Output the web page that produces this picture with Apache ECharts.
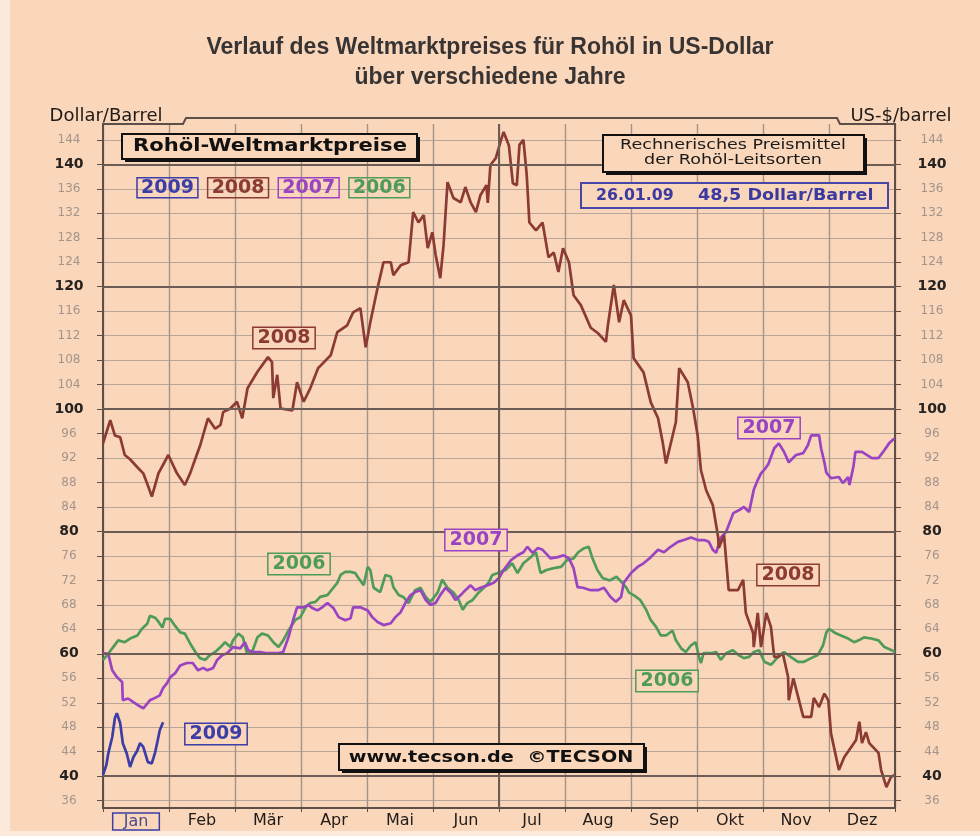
<!DOCTYPE html>
<html>
<head>
<meta charset="utf-8">
<script src="https://cdn.jsdelivr.net/npm/echarts@6/dist/echarts.min.js"></script>
<style>
  html, body { margin: 0; padding: 0; background: #fbe9dc; }
  #chart { width: 980px; height: 836px; }
</style>
</head>
<body>
<div id="chart"></div>
<script>
// month labels and y tick labels
const months = ['Jan', 'Feb', 'Mär', 'Apr', 'Mai', 'Jun', 'Jul', 'Aug', 'Sep', 'Okt', 'Nov', 'Dez']
const yTicks = [36, 40, 44, 48, 52, 56, 60, 64, 68, 72, 76, 80, 84, 88, 92, 96, 100,
  104, 108, 112, 116, 120, 124, 128, 132, 136, 140, 144]
const boldLines = [40, 60, 80, 100, 120, 140]

// prices as [month position (0..12), dollar/barrel]
const oil2009 = [[0, 40.2], [0.05, 41.8], [0.08, 43.7], [0.14, 46.4], [0.18, 49.5], [0.21, 50.3],
  [0.26, 48.7], [0.3, 45.4], [0.36, 43.7], [0.41, 41.5], [0.46, 43.1], [0.52, 44.2], [0.56, 45.4],
  [0.61, 44.8], [0.68, 42.3], [0.74, 42.1], [0.79, 43.9], [0.82, 45.4], [0.86, 47.5], [0.91, 48.8]]

const oil2008 = [[0, 94.4], [0.11, 98.2], [0.18, 95.7], [0.26, 95.4], [0.33, 92.5], [0.41, 91.8],
  [0.52, 90.5], [0.61, 89.5], [0.68, 87.5], [0.74, 85.7], [0.84, 89.5], [0.99, 92.5], [1.12, 89.5],
  [1.24, 87.6], [1.32, 89.5], [1.38, 91.3], [1.47, 94], [1.59, 98.5], [1.7, 96.8], [1.78, 97.4],
  [1.82, 99.5], [1.93, 100.1], [2.03, 101.2], [2.11, 98.5], [2.19, 103.4], [2.34, 106.1], [2.5, 108.5],
  [2.56, 107.7], [2.58, 101.8], [2.64, 105.6], [2.69, 100.1], [2.87, 99.8], [2.94, 104.4], [3.04, 101.2],
  [3.14, 103.4], [3.26, 106.7], [3.45, 108.8], [3.55, 112.6], [3.7, 113.7], [3.79, 115.8], [3.9, 116.5],
  [3.98, 110.1], [4.05, 114.2], [4.16, 119.8], [4.25, 124], [4.36, 124], [4.4, 121.9], [4.51, 123.5],
  [4.63, 124], [4.7, 132.2], [4.78, 130.5], [4.86, 131.7], [4.92, 126.3], [4.99, 128.9], [5.04, 125.2],
  [5.11, 121.4], [5.16, 126.8], [5.22, 137.1], [5.31, 134.5], [5.42, 133.8], [5.49, 136.3], [5.57, 133.8],
  [5.65, 132.2], [5.72, 135], [5.81, 136.6], [5.83, 133.7], [5.87, 139.9], [5.95, 141], [6.02, 143.6],
  [6.07, 145.3], [6.15, 143.1], [6.21, 136.9], [6.27, 136.6], [6.31, 143.2], [6.37, 144], [6.42, 138.3],
  [6.46, 130.5], [6.56, 129.2], [6.66, 130.5], [6.75, 124.8], [6.83, 125.6], [6.9, 122.4], [6.97, 126.3],
  [7.06, 124], [7.13, 118.6], [7.24, 117], [7.39, 113.3], [7.5, 112.4], [7.62, 111], [7.65, 113.7],
  [7.74, 120.3], [7.82, 114.2], [7.89, 117.8], [8.0, 115.3], [8.04, 108.3], [8.19, 106], [8.3, 101.1],
  [8.41, 98.5], [8.48, 94.6], [8.53, 91.1], [8.68, 97.9], [8.73, 106.7], [8.86, 104.4], [8.94, 100.2],
  [9.01, 95.7], [9.06, 90], [9.14, 86.7], [9.24, 84.3], [9.32, 79.1], [9.33, 77.3], [9.41, 79.4],
  [9.48, 70.4], [9.62, 70.4], [9.7, 72.1], [9.74, 66.7], [9.85, 63.4], [9.86, 61.1], [9.92, 66.7],
  [9.97, 61.1], [10.05, 66.7], [10.12, 64.4], [10.17, 59.5], [10.23, 59.5], [10.3, 60.1], [10.38, 56.2],
  [10.39, 52.4], [10.46, 56], [10.61, 49.7], [10.73, 49.7], [10.77, 52.8], [10.85, 51.3], [10.93, 53.5],
  [10.99, 52.4], [11.03, 47], [11.15, 41], [11.23, 43.1], [11.34, 44.8], [11.41, 45.9], [11.46, 48.9],
  [11.5, 45.4], [11.56, 47.2], [11.61, 45.4], [11.75, 43.8], [11.79, 41], [11.87, 38.2], [11.94, 39.9],
  [12, 40.2]]

const oil2007 = [[0, 60.1], [0.08, 60], [0.14, 57.3], [0.21, 56.2], [0.29, 55.4], [0.3, 52.4], [0.38, 52.7],
  [0.46, 52.1], [0.53, 51.6], [0.61, 51.1], [0.71, 52.4], [0.79, 52.8], [0.86, 53.2], [0.91, 54.4],
  [0.97, 55.2], [1.02, 56.2], [1.09, 56.8], [1.17, 58.1], [1.27, 58.5], [1.36, 58.5], [1.44, 57.3],
  [1.52, 57.7], [1.58, 57.3], [1.67, 57.7], [1.73, 59], [1.81, 59.8], [1.88, 60.1], [1.97, 61.1],
  [2.08, 60.9], [2.15, 61.9], [2.2, 60.6], [2.28, 60.3], [2.38, 60.3], [2.49, 60.1], [2.64, 60.1],
  [2.73, 60.3], [2.81, 62.7], [2.88, 65.5], [2.94, 67.6], [3.04, 67.6], [3.11, 68], [3.17, 67.5],
  [3.25, 67.1], [3.32, 67.6], [3.4, 68.3], [3.49, 67.5], [3.57, 66], [3.67, 65.5], [3.75, 65.8],
  [3.79, 67.6], [3.9, 67.6], [4.01, 67.1], [4.08, 66], [4.16, 65.2], [4.25, 64.7], [4.36, 65], [4.43, 66],
  [4.51, 66.8], [4.58, 68.3], [4.66, 69.6], [4.73, 70.1], [4.81, 70.4], [4.89, 68.8], [4.96, 68],
  [5.04, 68.3], [5.11, 69.6], [5.19, 70.8], [5.27, 70], [5.34, 68.8], [5.42, 69.6], [5.49, 70.4],
  [5.57, 71.2], [5.64, 70.4], [5.72, 70.8], [5.83, 71.2], [5.92, 71.6], [6.0, 72.4], [6.07, 73.7],
  [6.18, 75.3], [6.28, 76.1], [6.37, 76.6], [6.43, 77.5], [6.51, 76.5], [6.59, 77.3], [6.66, 77],
  [6.74, 76.1], [6.78, 75.6], [6.89, 75.8], [6.98, 76.1], [7.06, 75.6], [7.13, 74], [7.19, 70.9],
  [7.27, 70.8], [7.39, 70.4], [7.5, 70.4], [7.59, 70.8], [7.69, 69.3], [7.77, 68.5], [7.85, 69.3],
  [7.89, 71.6], [8.0, 73.2], [8.1, 74.2], [8.19, 74.8], [8.3, 75.8], [8.41, 77], [8.5, 76.6], [8.6, 77.5],
  [8.71, 78.3], [8.8, 78.6], [8.91, 79], [9.01, 78.6], [9.11, 78.6], [9.18, 78.3], [9.24, 77], [9.29, 76.5],
  [9.36, 79], [9.44, 79.9], [9.55, 83], [9.64, 83.5], [9.71, 84], [9.79, 83.2], [9.86, 86.8], [9.92, 88.4],
  [9.97, 89.5], [10.02, 90.1], [10.08, 91], [10.17, 93.6], [10.24, 94.4], [10.32, 93], [10.39, 91.3],
  [10.5, 92.5], [10.61, 92.8], [10.68, 94.1], [10.73, 95.7], [10.8, 95.7], [10.85, 95.7], [10.88, 93.6],
  [10.93, 91.3], [10.96, 89.6], [11.03, 88.7], [11.15, 88.9], [11.21, 87.9], [11.29, 88.9], [11.31, 87.6],
  [11.37, 90.6], [11.4, 93], [11.5, 93], [11.65, 92], [11.75, 92], [11.82, 93], [11.91, 94.4], [11.99, 95.2]]

const oil2006 = [[0, 59], [0.08, 60], [0.14, 60.9], [0.23, 62.2], [0.33, 61.9], [0.41, 62.5], [0.52, 63],
  [0.59, 64.1], [0.67, 64.9], [0.71, 66.2], [0.79, 65.9], [0.83, 65.4], [0.9, 64.3], [0.94, 65.7],
  [1.02, 65.7], [1.09, 64.6], [1.17, 63.5], [1.24, 63.3], [1.32, 61.7], [1.4, 60.3], [1.47, 59.3],
  [1.55, 59], [1.62, 59.8], [1.7, 60.3], [1.78, 61.1], [1.85, 61.9], [1.93, 61.1], [1.97, 62.2],
  [2.05, 63.3], [2.12, 62.7], [2.18, 60.1], [2.26, 60.3], [2.34, 62.7], [2.41, 63.3], [2.5, 63],
  [2.58, 61.9], [2.66, 61.1], [2.73, 62.2], [2.81, 63.8], [2.91, 65.5], [2.99, 66], [3.07, 67.6],
  [3.14, 68.3], [3.22, 68.5], [3.29, 69.3], [3.4, 69.6], [3.49, 70.8], [3.55, 71.6], [3.6, 72.9],
  [3.67, 73.4], [3.75, 73.4], [3.82, 73.2], [3.87, 72.4], [3.95, 71.2], [4.01, 74.2], [4.05, 73.7],
  [4.1, 70.8], [4.2, 70.1], [4.28, 72.9], [4.36, 72.6], [4.4, 70.9], [4.48, 69.6], [4.55, 69.3],
  [4.63, 68.3], [4.73, 70.4], [4.81, 70.8], [4.89, 69.3], [4.96, 68.5], [5.07, 70], [5.14, 72.1],
  [5.22, 70.8], [5.31, 70], [5.39, 68.8], [5.45, 67.2], [5.52, 68.3], [5.6, 68.8], [5.69, 70], [5.77, 70.8],
  [5.84, 71.6], [5.9, 72.9], [5.98, 73.2], [6.1, 73.7], [6.2, 74.8], [6.28, 73.2], [6.37, 74.8],
  [6.48, 75.8], [6.56, 76.6], [6.63, 73.2], [6.72, 73.7], [6.83, 74], [6.94, 74.2], [7.03, 75.3],
  [7.13, 75.6], [7.2, 76.6], [7.28, 77.2], [7.36, 77.5], [7.41, 75.8], [7.49, 73.7], [7.57, 72.4],
  [7.68, 72], [7.78, 72.6], [7.85, 71.8], [7.93, 70.8], [7.97, 70], [8.04, 69.6], [8.14, 68.8],
  [8.23, 67.2], [8.3, 65.5], [8.38, 64.4], [8.45, 63], [8.53, 63], [8.63, 63.8], [8.68, 62.2],
  [8.76, 60.9], [8.83, 60.3], [8.91, 61.4], [8.98, 61.9], [9.03, 59.5], [9.06, 58.5], [9.1, 60.1],
  [9.21, 60.1], [9.29, 60.3], [9.36, 59], [9.44, 60.1], [9.54, 60.6], [9.63, 59.8], [9.71, 59.3],
  [9.79, 59.5], [9.86, 60.3], [9.94, 60.6], [10.02, 58.7], [10.12, 58.2], [10.23, 59.5], [10.32, 60.3],
  [10.42, 59.5], [10.53, 58.7], [10.62, 58.7], [10.73, 59.3], [10.83, 59.8], [10.91, 61.4], [10.96, 63.5],
  [11.0, 64.1], [11.08, 63.5], [11.18, 63], [11.29, 62.5], [11.38, 61.9], [11.45, 62.2], [11.53, 62.7],
  [11.64, 62.5], [11.75, 62.2], [11.84, 61.1], [11.95, 60.6], [12, 60.3]]

const C09 = '#3d3da8'
const C08 = '#8b3a34'
const C07 = '#9a44c2'
const C06 = '#4f9b59'
const BG = '#fad6ba'
const AXIS = '#5e4e48'

let chart = echarts.init(document.getElementById('chart'))

let labelFmt = v => (v % 20 === 0 ? '{b|' + v + '}' : '{n|' + v + '}')
let labelRich = {
  b: { fontFamily: 'DejaVu Sans', fontWeight: 'bold', fontSize: 14, color: '#262220' },
  n: { fontFamily: 'DejaVu Sans', fontSize: 12, color: '#a3948c' },
}

let yAxisBase = {
  type: 'value',
  min: 34.8,
  max: 146.6,
  nameLocation: 'end',
  nameGap: -1,
  axisLine: { show: true, lineStyle: { color: AXIS, width: 2 } },
  axisTick: { show: true, customValues: yTicks, length: 6, lineStyle: { color: AXIS, width: 1 } },
  axisLabel: { customValues: yTicks, formatter: labelFmt, rich: labelRich, align: 'center' },
}

let yearLabel = (text, x, y, color) => ({
  type: 'text',
  z: 100,
  style: {
    text: text, x: x, y: y, align: 'center', verticalAlign: 'middle',
    font: 'bold 19px "DejaVu Sans"', fill: color,
    backgroundColor: BG, borderColor: color, borderWidth: 1.5, padding: [1, 4, 0, 4],
  },
})

// the source picture is a little stretched sideways, so the box texts get scaleX
let boxText = (text, x, y, font, color, sx, align) => ({
  type: 'text',
  z: 100,
  x: x,
  y: y,
  scaleX: sx,
  style: { text: text, x: 0, y: 0, align: align || 'center', verticalAlign: 'middle', font: font, fill: color, lineHeight: 15 },
})

let shadowBox = (x, y, w, h) => [
  { type: 'rect', z: 98, shape: { x: x + 3, y: y + 3, width: w, height: h }, style: { fill: '#111' } },
  { type: 'rect', z: 99, shape: { x: x, y: y, width: w, height: h }, style: { fill: BG, stroke: '#111', lineWidth: 2 } },
]

let lineSeries = (name, data, color) => ({
  name: name,
  type: 'line',
  data: data,
  z: 3,
  showSymbol: false,
  symbol: 'none',
  lineStyle: { color: color, width: 2.7 },
  itemStyle: { color: color },
})

let options = {
  animation: false,
  backgroundColor: BG,
  title: {
    text: 'Verlauf des Weltmarktpreises für Rohöl in US-Dollar\nüber verschiedene Jahre',
    left: 'center',
    top: 28,
    textStyle: { fontFamily: 'Liberation Sans', fontWeight: 'bold', fontSize: 23, lineHeight: 30, color: '#383434' },
  },
  legend: {
    left: 127,
    top: 172,
    itemWidth: 0,
    itemHeight: 0,
    itemGap: 4,
    icon: 'rect',
    selectedMode: false,
    textStyle: { fontFamily: 'DejaVu Sans', fontWeight: 'bold', fontSize: 19, borderWidth: 1.5, padding: [1, 4, 0, 4] },
    data: [
      { name: '2009', textStyle: { color: C09, borderColor: C09 } },
      { name: '2008', textStyle: { color: C08, borderColor: C08 } },
      { name: '2007', textStyle: { color: C07, borderColor: C07 } },
      { name: '2006', textStyle: { color: C06, borderColor: C06 } },
    ],
  },
  grid: { left: 103, right: 85, top: 124, bottom: 28, outerBoundsMode: 'none' },
  xAxis: [
    {
      type: 'value',
      min: 0,
      max: 12,
      interval: 1,
      axisLine: { show: true, onZero: false, lineStyle: { color: AXIS, width: 2 } },
      axisTick: { show: true, length: 4, lineStyle: { color: AXIS } },
      axisLabel: { show: false },
      splitLine: { show: true, lineStyle: { color: '#a3948a', width: 1.4 } },
    },
    {
      type: 'category',
      data: months,
      position: 'bottom',
      boundaryGap: true,
      axisLine: { show: false },
      axisTick: { show: false },
      splitLine: { show: false },
      axisLabel: {
        interval: 0,
        margin: 5,
        fontFamily: 'DejaVu Sans',
        fontSize: 16,
        color: '#201c1a',
        formatter: v => (v === 'Jan' ? '{jan|Jan}' : v),
        rich: {
          jan: {
            fontFamily: 'DejaVu Sans', fontSize: 16, color: '#4a4a8a',
            borderColor: C09, borderWidth: 1.5, padding: [1, 11, 0, 11],
          },
        },
      },
    },
  ],
  yAxis: [
    Object.assign({}, yAxisBase, {
      position: 'left',
      name: 'Dollar/Barrel',
      nameTextStyle: { fontFamily: 'DejaVu Sans', fontSize: 18, color: '#1e1a18', align: 'center', padding: [0, 0, 0, 6] },
      axisLabel: Object.assign({}, yAxisBase.axisLabel, { margin: 34 }),
      splitLine: { show: true, lineStyle: { color: '#b8a699', width: 1.1 } },
    }),
    Object.assign({}, yAxisBase, {
      position: 'right',
      name: 'US-$/barrel',
      nameTextStyle: { fontFamily: 'DejaVu Sans', fontSize: 18, color: '#1e1a18', align: 'center', padding: [0, 0, 0, 12] },
      axisLabel: Object.assign({}, yAxisBase.axisLabel, { margin: 37 }),
      splitLine: { show: false },
    }),
  ],
  series: [
    {
      name: 'raster',
      type: 'line',
      data: [],
      z: 1,
      silent: true,
      markLine: {
        silent: true,
        symbol: ['none', 'none'],
        label: { show: false },
        lineStyle: { color: '#6c5c56', width: 2, type: 'solid' },
        data: [{ xAxis: 6 }].concat(boldLines.map(v => ({ yAxis: v }))),
      },
    },
    lineSeries('2006', oil2006, C06),
    lineSeries('2007', oil2007, C07),
    lineSeries('2008', oil2008, C08),
    lineSeries('2009', oil2009, C09),
  ],
  graphic: [
    { type: 'rect', z: -10, shape: { x: 0, y: 0, width: 10, height: 836 }, style: { fill: '#fbe9dc' } },
    { type: 'rect', z: -10, shape: { x: 0, y: 831, width: 980, height: 5 }, style: { fill: '#fbe9dc' } },
    // stepped top frame of the plot
    {
      type: 'polyline', z: 5, silent: true,
      shape: { points: [[102, 124], [183, 124], [186, 118], [837, 118], [840, 124], [896, 124]] },
      style: { stroke: AXIS, lineWidth: 2, fill: null },
    },
    ...shadowBox(122, 134, 295, 25),
    boxText('Rohöl-Weltmarktpreise', 270, 147, 'bold 17px "DejaVu Sans"', '#111', 1.24),
    ...shadowBox(603, 135, 261, 37),
    boxText('Rechnerisches Preismittel\nder Rohöl-Leitsorten', 733, 153, '13.5px "DejaVu Sans"', '#1a1a1a', 1.3),
    { type: 'rect', z: 99, shape: { x: 581, y: 183, width: 307, height: 25 }, style: { fill: BG, stroke: '#4646a6', lineWidth: 2 } },
    boxText('26.01.09', 596, 196, 'bold 15px "DejaVu Sans"', '#3a3aa0', 1.05, 'left'),
    boxText('48,5 Dollar/Barrel', 698, 196, 'bold 15px "DejaVu Sans"', '#3a3aa0', 1.17, 'left'),
    ...shadowBox(339, 744, 305, 26),
    boxText('www.tecson.de  ©TECSON', 491, 758, 'bold 16px "DejaVu Sans"', '#111', 1.2),
    yearLabel('2008', 284, 338, C08),
    yearLabel('2006', 299, 564, C06),
    yearLabel('2007', 476, 540, C07),
    yearLabel('2009', 216, 734, C09),
    yearLabel('2007', 769, 428, C07),
    yearLabel('2008', 788, 575, C08),
    yearLabel('2006', 667, 681, C06),
  ],
}

chart.setOption(options)
</script>
</body>
</html>
